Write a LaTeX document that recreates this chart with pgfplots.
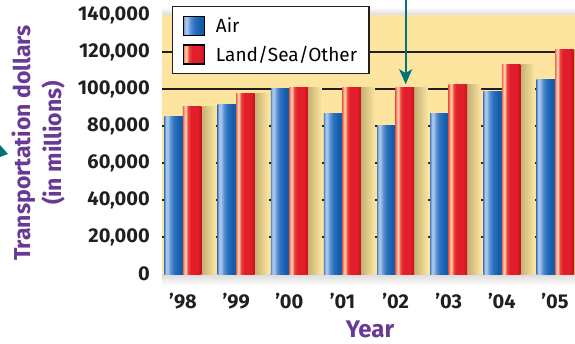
\documentclass[border=0pt]{standalone}
\usepackage{pgfplots}
\pgfplotsset{compat=1.18}
\usepackage{fontspec}
\setmainfont{Fira Sans}
\usetikzlibrary{arrows.meta}

\definecolor{bgyellow}{RGB}{253,229,160}
\definecolor{purp}{RGB}{104,58,150}
\definecolor{teal2}{RGB}{0,115,122}
\definecolor{txt}{RGB}{35,31,32}
\definecolor{b0}{RGB}{80,132,200}
\definecolor{b1}{RGB}{165,196,234}
\definecolor{b2}{RGB}{95,148,212}
\definecolor{b3}{RGB}{45,115,192}
\definecolor{b4}{RGB}{18,92,172}
\definecolor{r0}{RGB}{240,106,78}
\definecolor{r1}{RGB}{249,198,166}
\definecolor{r2}{RGB}{236,72,62}
\definecolor{r3}{RGB}{226,30,42}
\definecolor{r4}{RGB}{198,16,28}
\definecolor{sh0}{RGB}{196,176,116}

\pgfdeclarehorizontalshading{airshade}{100bp}{color(0bp)=(b0); color(25bp)=(b0); color(29bp)=(b1); color(34bp)=(b1); color(41bp)=(b2); color(50bp)=(b3); color(66bp)=(b4); color(75bp)=(b4); color(100bp)=(b4)}
\pgfdeclarehorizontalshading{landshade}{100bp}{color(0bp)=(r0); color(25bp)=(r0); color(30bp)=(r1); color(33bp)=(r1); color(38bp)=(r2); color(46bp)=(r3); color(64bp)=(r3); color(75bp)=(r4); color(100bp)=(r4)}
\pgfdeclarehorizontalshading{shadowshade}{100bp}{color(0bp)=(sh0); color(25bp)=(sh0); color(75bp)=(bgyellow); color(100bp)=(bgyellow)}

\pgfplotstableread{
x air land
0 85000 90500
1 91500 97500
2 100000 101000
3 86500 101000
4 80000 101000
5 86500 102700
6 98400 113000
7 105000 121200
}\datatable

\begin{document}
\begin{tikzpicture}[x=1pt,y=1pt]
\clip (0,0) rectangle (575,343);
\fill[white] (0,0) rectangle (575,343);
\shade[top color=black!14, bottom color=white] (162,69) rectangle (575,57);
\shade[top color=white, bottom color=black!14] (162,336) rectangle (575,328);
\begin{axis}[
  at={(162pt,69pt)}, anchor=south west,
  scale only axis, width=413pt, height=259pt,
  xmin=-0.395, xmax=7.376, ymin=0, ymax=140000,
  clip=false,
  axis line style={draw=none},
  axis background/.style={fill=bgyellow},
  major tick length=0pt,
  xtick={0,...,7},
  xticklabels={’98,’99,’00,’01,’02,’03,’04,’05},
  ytick={0,20000,40000,60000,80000,100000,120000,140000},
  extra y ticks={20000,40000,60000,80000,100000,120000},
  extra y tick labels={},
  extra y tick style={grid=major},
  grid style={line width=1.4pt, color=txt},
  scaled y ticks=false,
  /pgf/number format/fixed,
  /pgf/number format/1000 sep={,},
  /pgf/number format/assume math mode=true,
  tick label style={font=\fontsize{20}{20}\selectfont\bfseries, color=txt},
  yticklabel style={anchor=east, inner sep=0pt, xshift=-12pt},
  xticklabel style={anchor=north, inner sep=0pt, yshift=-19pt},
  ylabel={Transportation dollars\\(in millions)},
  ylabel style={at={(axis description cs:-0.299,0.506)}, anchor=center, align=center,
    font=\fontsize{23}{31}\selectfont\bfseries, color=purp},
  xlabel={Year},
  xlabel style={at={(axis description cs:0.5036,-0.2124)}, anchor=center, inner sep=0pt,
    font=\fontsize{24}{24}\selectfont\bfseries, color=purp},
  legend style={at={(axis description cs:0.0242,1.0347)}, anchor=north west,
    draw=txt, line width=1.3pt, fill=white,
    font=\fontsize{19}{19}\selectfont, inner xsep=10pt, inner ysep=9pt,
    row sep=8pt, cells={anchor=west},
    /tikz/every odd column/.style={column sep=9pt}},
  legend cell align=left,
]
\pgfplotsinvokeforeach{0,...,7}{
\addplot[ybar, bar width=14pt, bar shift=25.5pt, draw=none, shading=shadowshade, forget plot,
  restrict x to domain=#1:#1] table[x=x, y=land] {\datatable};
\addplot[ybar, bar width=18.5pt, bar shift=-9.25pt, draw=none, shading=airshade, forget plot,
  restrict x to domain=#1:#1] table[x=x, y=air] {\datatable};
\addplot[ybar, bar width=18.5pt, bar shift=9.25pt, draw=none, shading=landshade, forget plot,
  restrict x to domain=#1:#1] table[x=x, y=land] {\datatable};
}
\addlegendimage{legend image code/.code={\path[shading=airshade] (0pt,-9.5pt) rectangle (21pt,9.5pt);}}
\addlegendentry{Air}
\addlegendimage{legend image code/.code={\path[shading=landshade] (0pt,-9.5pt) rectangle (21pt,9.5pt);}}
\addlegendentry{Land/Sea/Other}
\draw[teal2, line width=2.2pt, -{Stealth[length=15pt, width=13pt, inset=4pt]}] (axis cs:4.19,152000) -- (axis cs:4.19,102600);
\end{axis}
\fill[teal2] (0,198) -- (8,189) -- (0,186) -- cycle;
\end{tikzpicture}
\end{document}
